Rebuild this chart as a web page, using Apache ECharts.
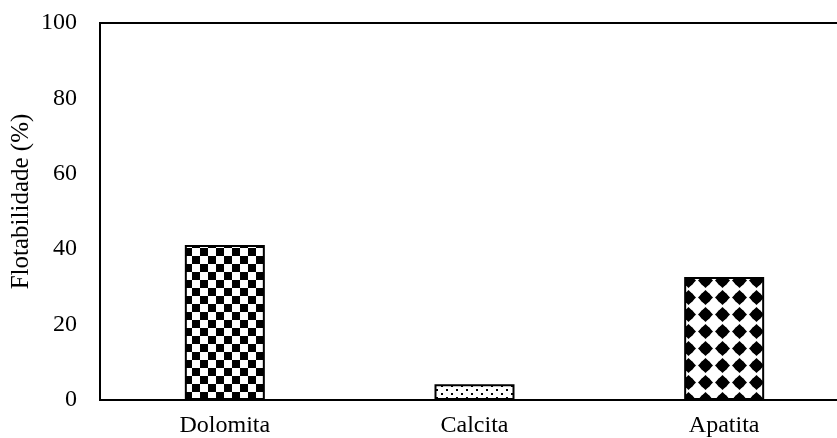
<!DOCTYPE html>
<html><head><meta charset="utf-8">
<script src="https://cdn.jsdelivr.net/npm/echarts@6/dist/echarts.min.js"></script>
<style>html,body{margin:0;padding:0;background:#fff;overflow:hidden}#c{width:837px;height:438px}</style>
</head><body><div id="c"></div>
<script>
const categories = ['Dolomita', 'Calcita', 'Apatita'];
const values = [41.1, 4.2, 32.6];
const yTicks = [0, 20, 40, 60, 80, 100];

function mk(w, h, draw) {
  const c = document.createElement('canvas');
  c.width = w; c.height = h;
  const g = c.getContext('2d');
  g.fillStyle = '#fff'; g.fillRect(0, 0, w, h);
  g.fillStyle = '#000';
  draw(g);
  return c;
}
const checker = mk(16, 16, g => { g.fillRect(0, 0, 8, 8); g.fillRect(8, 8, 8, 8); });
const diamonds = mk(17, 17, g => {
  g.beginPath();
  g.moveTo(8.5, 1); g.lineTo(16, 8.5); g.lineTo(8.5, 16); g.lineTo(1, 8.5); g.closePath(); g.fill();
  g.beginPath(); g.arc(8.5, 8.5, 5.5, 0, Math.PI * 2); g.fill();
});
const dots = mk(10, 8, g => { g.fillRect(1, 1, 2, 2); g.fillRect(6, 5, 2, 2); });
const patterns = [checker, dots, diamonds];

const chart = echarts.init(document.getElementById('c'));
chart.setOption({
  animation: false,
  grid: { left: 100, right: -12, top: 23, bottom: 38, show: true, borderColor: '#000', borderWidth: 2,
    containLabel: false, outerBoundsMode: 'none' },
  xAxis: {
    type: 'category', data: categories,
    axisLine: { lineStyle: { color: '#000', width: 2 } },
    axisTick: { show: false },
    axisLabel: { color: '#000', fontFamily: 'Liberation Serif', fontSize: 24, margin: 14 }
  },
  yAxis: {
    type: 'value', min: 0, max: 100, interval: 20,
    name: 'Flotabilidade (%)', nameLocation: 'middle', nameGap: 66, nameRotate: 90, nameMoveOverlap: false,
    nameTextStyle: { color: '#000', fontFamily: 'Liberation Serif', fontSize: 25, padding: [0, 0, 0, 20] },
    axisLine: { show: true, lineStyle: { color: '#000', width: 2 } },
    axisTick: { show: false },
    splitLine: { show: false },
    axisLabel: { color: '#000', fontFamily: 'Liberation Serif', fontSize: 24, margin: 23,
      formatter: v => yTicks.includes(v) ? String(v) : '' }
  },
  series: [{
    type: 'bar', barWidth: 80,
    data: values.map((v, i) => ({ value: v, itemStyle: { color: { image: patterns[i], repeat: 'repeat' } } })),
    itemStyle: { borderColor: '#000', borderWidth: 2 }
  }]
});
</script></body></html>
